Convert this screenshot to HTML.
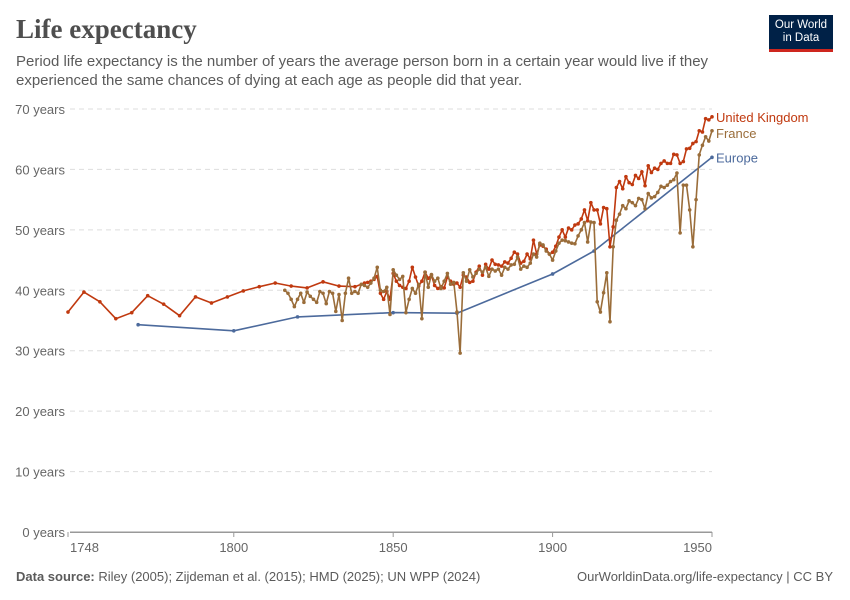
<!DOCTYPE html>
<html><head><meta charset="utf-8">
<style>
body{margin:0;background:#fff;font-family:"Liberation Sans",sans-serif;}
#wrap{position:relative;width:850px;height:600px;overflow:hidden;}
.title{position:absolute;left:16px;top:14px;font-family:"Liberation Serif",serif;font-size:27px;font-weight:bold;color:#4e4e4e;}
.sub{position:absolute;left:16px;top:52px;font-size:15px;line-height:19px;color:#5b5b5b;width:720px;}
.logo{position:absolute;left:769px;top:15px;width:64px;height:37px;background:#002147;border-bottom:3px solid #ce261e;color:#fff;font-size:11.5px;line-height:13px;text-align:center;padding-top:4px;box-sizing:border-box;}
.foot{position:absolute;top:569px;font-size:13px;color:#5b5b5b;}
</style></head><body>
<div id="wrap">
<div class="title">Life expectancy</div>
<div class="sub">Period life expectancy is the number of years the average person born in a certain year would live if they experienced the same chances of dying at each age as people did that year.</div>
<div class="logo">Our World<br>in Data</div>
<svg id="chart" width="850" height="600" style="position:absolute;left:0;top:0"></svg>
<div class="foot" style="left:16px"><b>Data source:</b> Riley (2005); Zijdeman et al. (2015); HMD (2025); UN WPP (2024)</div>
<div class="foot" style="right:17px">OurWorldinData.org/life-expectancy | CC BY</div>
</div>
<script>
const yTicks=[0,10,20,30,40,50,60,70];
const xTicks=[1748,1800,1850,1900,1950];
const ukEarlyYears=[1748,1753,1758,1763,1768,1773,1778,1783,1788,1793,1798,1803,1808,1813,1818,1823,1828,1833,1838];
const ukEarlyValues=[36.4,39.7,38.1,35.3,36.3,39.1,37.7,35.8,38.9,37.9,38.9,39.9,40.6,41.2,40.7,40.4,41.4,40.7,40.6];
const ukStartYear=1841;
const ukValues=[41.2,41.3,41.5,41.8,42.3,39.5,38.5,39.8,38.5,42.8,41.5,40.8,40.5,40.3,41.5,43.8,42.2,40.7,41.5,43,42,42.5,40.8,40.3,40.6,40.4,42.2,41.5,41,41.2,40.5,42.5,42.2,41.3,41.5,43,44,42.5,44.3,43.5,45,44.3,44.2,44,44.7,44.5,45.3,46.3,46,44.5,44.8,46,45.2,48.3,46,47.5,47.3,46.8,46,46.3,47.3,48.8,50,48.8,50.3,50,50.8,51,51.8,53.3,51.5,54.5,53.3,53.3,51,53.7,53.5,47.2,50.5,57,58,56.8,58.8,57.8,57.5,59,58.5,59.6,57.3,60.6,59.5,60.2,60,61,61.4,61,61,62.5,62.4,61,61.3,63.4,63.5,64.3,64.6,66.4,66.2,68.4,68.2,68.7];
const frStartYear=1816;
const frValues=[40.0,39.5,38.5,37.3,38.5,39.5,38,39.7,39,38.5,38,39.8,39.5,37.8,39.8,39.5,36.5,39.3,35.0,39.5,42.0,39.5,39.8,39.5,41,40.8,40.5,41.2,42,43.8,40,39.8,40.5,36,43.4,42.5,41.8,42.3,36.3,38.5,40.3,39.5,41,35.3,43,40.5,42.6,41.5,42,40.3,41.5,42.8,41,41.3,36.4,29.6,42.9,41.5,43.4,42.2,42.8,43.5,43,43.8,42.3,43.5,43.2,43.5,42.5,43.8,43.5,44.2,44.3,45.5,43.5,44,43.8,44.5,46,45.5,47.8,47.5,46.5,46,45,46.5,47.8,48.3,48.2,48,47.8,47.7,49,50,51.2,48,51.3,51.2,38.1,36.4,39.6,42.9,34.8,47.2,51.6,52.6,54,53.5,54.8,54.5,54,55.2,55,53.5,56,55.3,55.5,56.2,57.2,57,57.4,58,58.3,59.4,49.5,57.4,57.4,53.3,47.2,55,62.4,64,65.4,64.7,66.4];
const euYears=[1770,1800,1820,1850,1870,1900,1913,1950];
const euValues=[34.3,33.3,35.6,36.3,36.2,42.7,46.5,62];

const NS="http://www.w3.org/2000/svg";
const svg=document.getElementById('chart');
const X0=68,X1=712,Y0=532,Y1=109;
function xs(y){return X0+(y-1748)/(1950-1748)*(X1-X0);}
function ys(v){return Y0-v/70*(Y0-Y1);}
function mk(t,a,p){const e=document.createElementNS(NS,t);for(const k in a)e.setAttribute(k,a[k]);(p||svg).appendChild(e);return e;}

yTicks.forEach(v=>{
  const l=mk('line',{x1:70,x2:712,y1:ys(v),y2:ys(v),stroke:v===0?'#999':'#ddd','stroke-dasharray':v===0?'':'5,4','stroke-width':1});
  
  
  const t=mk('text',{x:65,y:ys(v)+5,'text-anchor':'end','font-size':13,fill:'#666','font-family':'Liberation Sans'});
  t.textContent=v+' years';
  
  
});
mk('line',{x1:70,x2:712,y1:Y0+0.5,y2:Y0+0.5,stroke:'#999'});
xTicks.forEach((yr,i)=>{
  const x=xs(yr);
  const tk=mk('line',{x1:x,x2:x,y1:Y0,y2:Y0+5,stroke:'#999'});
  
  
  const anchor=i===0?'start':(i===xTicks.length-1?'end':'middle');
  const t=mk('text',{x:i===0?70:x,y:Y0+20,'text-anchor':anchor,'font-size':13,fill:'#666','font-family':'Liberation Sans'});
  t.textContent=yr;
  
  
});

function series(years,vals,color,name){
  const g=mk('g',{});
  
  
  const d=years.map((y,i)=>(i?'L':'M')+xs(y).toFixed(1)+','+ys(vals[i]).toFixed(1)).join('');
  const p=mk('path',{d:d,fill:'none',stroke:color,'stroke-width':1.6,'stroke-linejoin':'round'},g);
  
  
  years.forEach((y,i)=>{
    const c=mk('circle',{cx:xs(y),cy:ys(vals[i]),r:1.8,fill:color},g);
    
    
  });
}
const ukYears=ukEarlyYears.concat(ukValues.map((v,i)=>ukStartYear+i));
const ukAll=ukEarlyValues.concat(ukValues);
const frYears=frValues.map((v,i)=>frStartYear+i);
series(euYears,euValues,'#4c6a9c','europe');
series(ukYears,ukAll,'#c0390f','united-kingdom');
series(frYears,frValues,'#9a6d3a','france');

[['United Kingdom',ukAll[ukAll.length-1],'#c0390f',0,'uk-label'],['France',frValues[frValues.length-1],'#9a6d3a',2,'france-label'],['Europe',euValues[euValues.length-1],'#4c6a9c',0,'europe-label']].forEach(a=>{
  const t=mk('text',{x:716,y:ys(a[1])+5+a[3],'font-size':13,fill:a[2],'font-family':'Liberation Sans'});
  t.textContent=a[0];
  
  
});
</script>
</body></html>
